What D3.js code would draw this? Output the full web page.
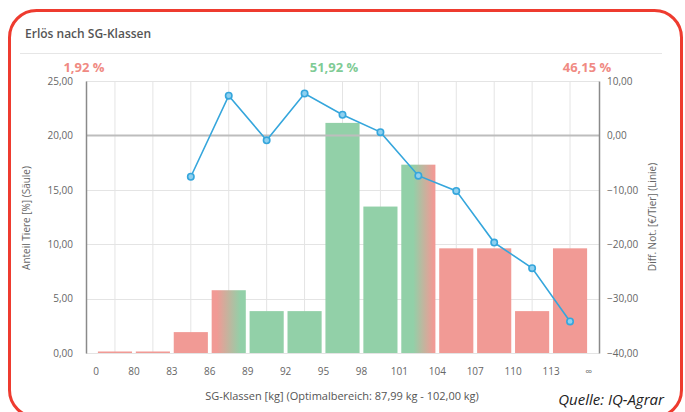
<!DOCTYPE html>
<html>
<head>
<meta charset="utf-8">
<script src="https://cdn.jsdelivr.net/npm/d3@7"></script>
<style>
  body { margin: 0; background: #fff; }
  text { font-family: "Open Sans", sans-serif; }
</style>
</head>
<body>
<div id="canvas"></div>
<script>
// SG classes (bar edges) and values
const classLabels = ["0", "80", "83", "86", "89", "92", "95", "98", "101", "104", "107", "110", "113", "\u221e"];
const shareValues = [0, 0, 1.92, 5.77, 3.85, 3.85, 21.15, 13.46, 17.31, 9.62, 9.62, 3.85, 9.62];
const diffValues = [null, null, -7.6, 7.3, -0.9, 7.7, 3.8, 0.6, -7.4, -10.2, -19.7, -24.4, -34.2];
const barZones = ["low", "low", "low", "lowOpt", "opt", "opt", "opt", "opt", "optHigh", "high", "high", "high", "high"];
const leftTicks = [0, 5, 10, 15, 20, 25];
const rightTicks = [-40, -30, -20, -10, 0, 10];
const summaryLabels = ["1,92 %", "51,92 %", "46,15 %"];
const summaryZones = ["low", "opt", "high"];

const width = 685, height = 412;
const plot = { left: 86, right: 599, top: 81, bottom: 353 };

const red = "#f19a95", green = "#92d0a8", blue = "#35a6dc";

const de = d3.formatLocale({ decimal: ",", thousands: ".", grouping: [3], currency: ["", " \u20ac"] });
const fmt = de.format(".2f");

const svg = d3.select("#canvas").append("svg")
    .attr("width", width)
    .attr("height", height);

const defs = svg.append("defs");
function gradient(id, stops) {
    const g = defs.append("linearGradient").attr("id", id)
        .attr("x1", "0%").attr("x2", "100%").attr("y1", "0%").attr("y2", "0%");
    stops.forEach(function (s) {
        g.append("stop").attr("offset", s[0]).attr("stop-color", s[1]);
    });
}
gradient("lowOpt", [["0.15", red], ["0.85", green]]);
gradient("optHigh", [["0.35", green], ["0.95", red]]);

function zoneFill(z) {
    if (z == "low" || z == "high") return red;
    if (z == "opt") return green;
    return "url(#" + z + ")";
}

// frame
svg.append("rect")
    .attr("x", 9.5).attr("y", 10.5)
    .attr("width", 672).attr("height", 406.5)
    .attr("rx", 27)
    .style("fill", "none")
    .style("stroke", "#ee3b2f")
    .style("stroke-width", 3);

svg.append("text")
    .attr("x", 25).attr("y", 38)
    .style("font-size", "12px")
    .style("font-weight", 600)
    .style("fill", "#555")
    .text("Erl\u00f6s nach SG-Klassen");

svg.append("line")
    .attr("x1", 20).attr("x2", 662)
    .attr("y1", 53.5).attr("y2", 53.5)
    .style("stroke", "#e6e6e6");

// scales
const x = d3.scaleBand()
    .domain(d3.range(shareValues.length))
    .range([96, 589])
    .paddingInner(0.1)
    .paddingOuter(0.05);

const yLeft = d3.scaleLinear().domain([0, 25]).range([plot.bottom, plot.top]);
const yRight = d3.scaleLinear().domain([-40, 10]).range([plot.bottom, plot.top]);

const edge = d3.scaleLinear().domain([0, shareValues.length]).range([96, 589]);

// grid
const grid = svg.append("g");
grid.selectAll("line.h")
    .data(leftTicks)
    .enter().append("line")
    .attr("x1", plot.left).attr("x2", plot.right)
    .attr("y1", function (d) { return Math.round(yLeft(d)) + 0.5; })
    .attr("y2", function (d) { return Math.round(yLeft(d)) + 0.5; })
    .style("stroke", "#e4e4e4");

grid.selectAll("line.v")
    .data(d3.range(shareValues.length))
    .enter().append("line")
    .attr("x1", function (d) { return x(d) + x.bandwidth() / 2; })
    .attr("x2", function (d) { return x(d) + x.bandwidth() / 2; })
    .attr("y1", plot.top).attr("y2", plot.bottom)
    .style("stroke", "#e4e4e4");

// bars (empty classes still get a hairline)
svg.append("g").selectAll("rect")
    .data(shareValues)
    .enter().append("rect")
    .attr("x", function (d, i) { return x(i); })
    .attr("width", x.bandwidth())
    .attr("y", function (d) { return Math.min(yLeft(d), plot.bottom - 1.5); })
    .attr("height", function (d) { return Math.max(plot.bottom - yLeft(d), 1.5); })
    .style("fill", function (d, i) { return zoneFill(barZones[i]); });

// zero line of right axis
svg.append("line")
    .attr("x1", plot.left).attr("x2", plot.right)
    .attr("y1", yRight(0)).attr("y2", yRight(0))
    .style("stroke", "#bdbdbd")
    .style("stroke-width", 2);

// axes
const leftAxis = svg.append("g")
    .attr("transform", "translate(" + plot.left + ",0)")
    .call(d3.axisLeft(yLeft).tickValues(leftTicks).tickFormat(fmt).tickSize(0).tickPadding(13));
const rightAxis = svg.append("g")
    .attr("transform", "translate(" + plot.right + ",0)")
    .call(d3.axisRight(yRight).tickValues(rightTicks).tickFormat(fmt).tickSize(0).tickPadding(8));

[leftAxis, rightAxis].forEach(function (a) {
    a.select(".domain").style("stroke", "#8a8a8a").style("stroke-width", 1.5);
    a.selectAll("text")
        .style("font-family", "'Open Sans', sans-serif")
        .style("font-size", "10px")
        .style("fill", "#666");
});

svg.append("g").selectAll("text")
    .data(classLabels)
    .enter().append("text")
    .attr("x", function (d, i) { return edge(i); })
    .attr("y", 375)
    .attr("text-anchor", "middle")
    .style("font-size", "10px")
    .style("fill", "#666")
    .text(function (d) { return d; });

// line
const line = d3.line()
    .defined(function (d) { return d != null; })
    .x(function (d, i) { return x(i) + x.bandwidth() / 2; })
    .y(function (d) { return yRight(d); });

svg.append("path")
    .datum(diffValues)
    .attr("d", line)
    .style("fill", "none")
    .style("stroke", blue)
    .style("stroke-width", 1.6);

svg.append("g").selectAll("circle")
    .data(diffValues.map(function (d, i) { return { v: d, i: i }; }).filter(function (d) { return d.v != null; }))
    .enter().append("circle")
    .attr("cx", function (d) { return x(d.i) + x.bandwidth() / 2; })
    .attr("cy", function (d) { return yRight(d.v); })
    .attr("r", 3.2)
    .style("fill", "#8fd0ef")
    .style("stroke", blue)
    .style("stroke-width", 1.6);

// summary percentages
const summaryX = [84, 334, 587];
svg.append("g").selectAll("text")
    .data(summaryLabels)
    .enter().append("text")
    .attr("x", function (d, i) { return summaryX[i]; })
    .attr("y", 72)
    .attr("text-anchor", "middle")
    .style("font-size", "13px")
    .style("font-weight", 700)
    .style("fill", function (d, i) { return summaryZones[i] == "opt" ? "#7fcb95" : "#f08a83"; })
    .text(function (d) { return d; });

// axis titles
svg.append("text")
    .attr("transform", "translate(30,218) rotate(-90)")
    .attr("text-anchor", "middle")
    .style("font-size", "10px")
    .style("fill", "#666")
    .text("Anteil Tiere [%] (S\u00e4ule)");

svg.append("text")
    .attr("transform", "translate(656,217) rotate(-90)")
    .attr("text-anchor", "middle")
    .style("font-size", "10px")
    .style("fill", "#666")
    .text("Diff. Not. [\u20ac/Tier] (Linie)");

svg.append("text")
    .attr("x", 342).attr("y", 400)
    .attr("text-anchor", "middle")
    .style("font-size", "11px")
    .style("fill", "#555")
    .text("SG-Klassen [kg] (Optimalbereich: 87,99 kg - 102,00 kg)");

svg.append("text")
    .attr("x", 664).attr("y", 405)
    .attr("text-anchor", "end")
    .style("font-size", "15px")
    .style("font-style", "italic")
    .style("fill", "#222")
    .text("Quelle: IQ-Agrar");
</script>
</body>
</html>
